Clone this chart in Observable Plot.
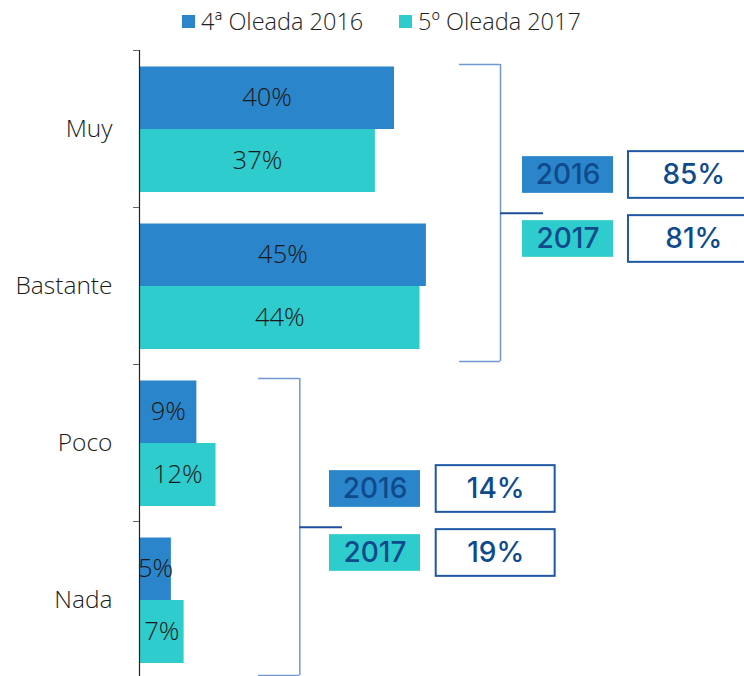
<!DOCTYPE html>
<html>
<head>
<meta charset="utf-8">
<script src="https://cdn.jsdelivr.net/npm/d3@7"></script>
<script src="https://cdn.jsdelivr.net/npm/@observablehq/plot@0.6"></script>
<style>
  html, body { margin: 0; padding: 0; background: #fff; }
  body { width: 744px; height: 676px; overflow: hidden; font-family: "Open Sans", sans-serif; }
  #legend { position: relative; height: 50px; }
  .item { position: absolute; top: 5px; display: flex; align-items: center; font-size: 23.5px; font-weight: 300; color: #1e1e1e; white-space: nowrap; }
  .sw { width: 13px; height: 13px; margin-right: 6px; }
  #chart svg { display: block; }
</style>
</head>
<body>
<div id="legend"></div>
<div id="chart"></div>
<script>
// ---- data ----
const categories = ["Muy", "Bastante", "Poco", "Nada"];
const series = ["4ª Oleada 2016", "5º Oleada 2017"];
const values2016 = [40, 45, 9, 5];
const values2017 = [37, 44, 12, 7];
const groupUpper = ["Muy", "Poco"];
const groupLower = ["Bastante", "Nada"];
const yearLabels = ["2016", "2017"];
const groupTotals2016 = [85, 14];
const groupTotals2017 = [81, 19];

// ---- styles / layout ----
const colors = ["#2A85CA", "#2ECCCC"];
const boxText = "#0E4A8C";
const layout = { // annotation placement, in x-scale units
  armX: [50.2, 18.67], bracketX: [56.63, 25.15], connX: [63.37, 31.84],
  yearX1: [60.08, 29.8], yearX2: [74.35, 44.08],
  valX1: [76.7, 46.54], valX2: [97.2, 65.2]
};

const rows = [];
categories.forEach((c, i) => {
  rows.push({category: c, series: series[0], value: values2016[i]});
  rows.push({category: c, series: series[1], value: values2017[i]});
});
const r16 = rows.filter(d => d.series === series[0]);
const r17 = rows.filter(d => d.series === series[1]);

const groups = groupUpper.map((u, i) => ({
  upper: u, lower: groupLower[i],
  t16: groupTotals2016[i], t17: groupTotals2017[i],
  armX: layout.armX[i], bracketX: layout.bracketX[i], connX: layout.connX[i],
  yearX1: layout.yearX1[i], yearX2: layout.yearX2[i],
  valX1: layout.valX1[i], valX2: layout.valX2[i]
}));

// ---- legend ----
const legend = document.getElementById("legend");
const legendLeft = [182, 399];
series.forEach((s, i) => {
  const it = document.createElement("div");
  it.className = "item";
  it.style.left = legendLeft[i] + "px";
  const sw = document.createElement("span");
  sw.className = "sw";
  sw.style.background = colors[i];
  const tx = document.createElement("span");
  tx.textContent = s;
  it.appendChild(sw); it.appendChild(tx);
  legend.appendChild(it);
});

// ---- chart ----
const B = 157; // band height in px
const bracketStroke = "#6F98D2";
const yearDy = [-111, -47];
const boxFont = {fontSize: 28, fontWeight: 500, fontFamily: "Inter, sans-serif", fill: boxText};
const labelFont = {fontSize: 25.5, fontWeight: 300, fill: "#1a1a1a"};
const boxInset = (B - 36.7) / 2;
const valInset = (B - 46.7) / 2;

const chart = Plot.plot({
  width: 744,
  height: 626,
  marginLeft: 139,
  marginRight: 0,
  marginTop: 0,
  marginBottom: -2,
  style: {fontFamily: "Open Sans, sans-serif", background: "white", overflow: "hidden"},
  x: {domain: [0, 94.9], axis: null},
  y: {domain: categories, padding: 0, label: null},
  color: {domain: series, range: colors},
  marks: [
    Plot.barX(r16, {x: "value", y: "category", fill: "series", insetTop: 16.5, insetBottom: 78}),
    Plot.barX(r17, {x: "value", y: "category", fill: "series", insetTop: 79, insetBottom: 15}),
    Plot.text(r16, {x: d => d.value / 2, y: "category", dy: -30.75, text: d => d.value + "%", ...labelFont}),
    Plot.text(r17, {x: d => d.value / 2, y: "category", dy: 32, text: d => d.value + "%", ...labelFont}),
    Plot.ruleX([0], {stroke: "#222", strokeWidth: 1.2}),
    Plot.ruleY(categories, {y: d => d, x1: 0, x2: 0, insetLeft: -6, dy: -B / 2, stroke: "#666"}),
    Plot.axisY({tickSize: 0, tickPadding: 27, fontSize: 24.5, fontWeight: 300, color: "#1a1a1a", label: null}),
    // brackets
    Plot.ruleX(groups, {x: "bracketX", y1: "upper", y2: "lower", insetTop: 14, insetBottom: 3, stroke: bracketStroke, strokeWidth: 1.5}),
    Plot.ruleY(groups, {y: "upper", x1: "armX", x2: "bracketX", dy: -64.5, stroke: bracketStroke, strokeWidth: 1.5}),
    Plot.ruleY(groups, {y: "lower", x1: "armX", x2: "bracketX", dy: 75.5, stroke: bracketStroke, strokeWidth: 1.5}),
    Plot.ruleY(groups, {y: "lower", x1: "bracketX", x2: "connX", dy: -72.8, stroke: "#1F4E9C", strokeWidth: 2}),
    // year boxes
    Plot.barX(groups, {x1: "yearX1", x2: "yearX2", y: "lower", fill: colors[0], insetTop: boxInset, insetBottom: boxInset, dy: yearDy[0]}),
    Plot.barX(groups, {x1: "yearX1", x2: "yearX2", y: "lower", fill: colors[1], insetTop: boxInset, insetBottom: boxInset, dy: yearDy[1]}),
    Plot.text(groups, {x: d => (d.yearX1 + d.yearX2) / 2, y: "lower", dy: yearDy[0], text: () => yearLabels[0], ...boxFont}),
    Plot.text(groups, {x: d => (d.yearX1 + d.yearX2) / 2, y: "lower", dy: yearDy[1], text: () => yearLabels[1], ...boxFont}),
    // value boxes
    Plot.barX(groups, {x1: "valX1", x2: "valX2", y: "lower", fill: "white", stroke: "#1E57A3", strokeWidth: 2, insetTop: valInset, insetBottom: valInset, dy: yearDy[0]}),
    Plot.barX(groups, {x1: "valX1", x2: "valX2", y: "lower", fill: "white", stroke: "#1E57A3", strokeWidth: 2, insetTop: valInset, insetBottom: valInset, dy: yearDy[1]}),
    Plot.text(groups, {x: d => (d.valX1 + d.valX2) / 2, y: "lower", dy: yearDy[0], text: d => d.t16 + "%", ...boxFont}),
    Plot.text(groups, {x: d => (d.valX1 + d.valX2) / 2, y: "lower", dy: yearDy[1], text: d => d.t17 + "%", ...boxFont})
  ]
});
document.getElementById("chart").appendChild(chart);
</script>
</body>
</html>
